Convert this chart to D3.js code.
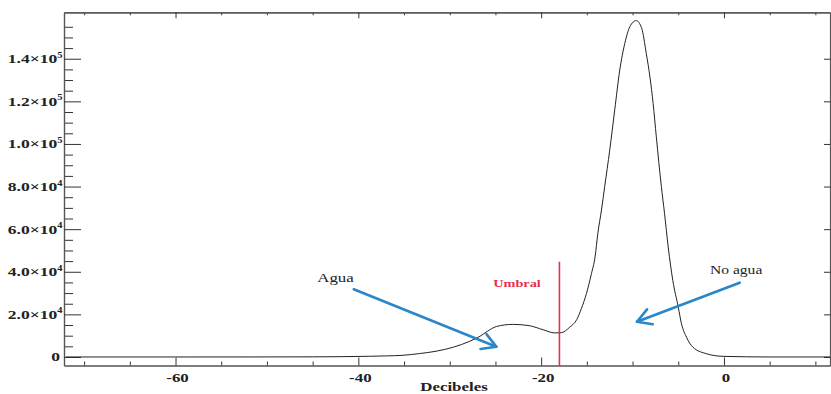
<!DOCTYPE html>
<html>
<head>
<meta charset="utf-8">
<script src="https://cdn.jsdelivr.net/npm/d3@7"></script>
<style>
  body { margin: 0; background: #fff; }
  svg { display: block; }
  text { font-family: "Liberation Serif", "DejaVu Serif", serif; }
</style>
</head>
<body>
<div id="chart"></div>
<script>
// histogram of backscatter (dB)
var decibels = [-72, -60, -50, -45, -42, -38.75, -37, -35.1, -33.3, -31.5, -29.6, -27.8, -26.7, -25.9, -24.9,
    -23.1, -21.3, -19.8, -18.5, -17.8, -16.9, -16.1, -15.6, -15.05, -14.5, -14.1, -13.8, -13.4, -13.05,
    -12.5, -11.95, -11.4, -10.85, -10.3, -9.6, -9.0, -8.5, -8.1, -7.75, -7.4, -6.85, -6.5, -6.1, -5.6,
    -5.0, -4.65, -4.1, -3.4, -1.9, -0.1, 5, 11.6];
var counts = [0, 0, 20, 60, 140, 330, 500, 800, 1600, 2700, 4600, 7400, 9700, 12000, 14300,
    15300, 14700, 12800, 11300, 11400, 13900, 17600, 22700, 29700, 39100, 47000, 58000, 69000, 80000,
    97000, 116000, 134700, 147200, 155000, 157900, 154300, 142500, 131500, 119000, 103300, 80000, 67300, 51600, 36000,
    23400, 15600, 9300, 4600, 1500, 300, 0, 0];

var xMajorTicks = [-60, -40, -20, 0];
var xMinorTicks = [-70, -65, -55, -50, -45, -35, -30, -25, -15, -10, -5, 5, 10];
var yMajorTicks = [0, 20000, 40000, 60000, 80000, 100000, 120000, 140000];
var yTickMantissa = ["0", "2.0×10", "4.0×10", "6.0×10", "8.0×10", "1.0×10", "1.2×10", "1.4×10"];
var yTickExponent = ["", "4", "4", "4", "4", "5", "5", "5"];
var yMinorTicks = [5000, 10000, 15000, 25000, 30000, 35000, 45000, 50000, 55000, 65000, 70000, 75000,
    85000, 90000, 95000, 105000, 110000, 115000, 125000, 130000, 135000, 145000, 150000, 155000];

var umbralDb = -18;
var umbralTop = 44700;

var svgWidth = 831;
var svgHeight = 394;
var stretch = 1.3;   // the figure's lettering is horizontally stretched

var plotLeft = 64, plotRight = 830, plotTop = 12.3, plotBottom = 365.5;

var svg = d3.select("#chart")
    .append("svg")
    .attr("width", svgWidth)
    .attr("height", svgHeight);

var x = d3.scaleLinear().domain([-72.2, 11.6]).range([plotLeft, plotRight]);
var y = d3.scaleLinear().domain([-4000, 161800]).range([plotBottom, plotTop]);

var axisColor = "#555";

function styleAxis(g) {
    g.select(".domain").attr("stroke", axisColor).attr("stroke-width", 1.2);
    g.selectAll(".tick line").attr("stroke", "#333").attr("stroke-width", 1);
    g.selectAll(".tick text").remove();
}

// bottom axis: ticks point up
svg.append("g").attr("transform", `translate(0, ${plotBottom})`)
    .call(d3.axisBottom(x).tickValues(xMinorTicks).tickSize(-4).tickSizeOuter(0)).call(styleAxis);
svg.append("g").attr("transform", `translate(0, ${plotBottom})`)
    .call(d3.axisBottom(x).tickValues(xMajorTicks).tickSize(-8).tickSizeOuter(0)).call(styleAxis);

// top axis: ticks point down
svg.append("g").attr("transform", `translate(0, ${plotTop})`)
    .call(d3.axisTop(x).tickValues(xMinorTicks).tickSize(-3).tickSizeOuter(0)).call(styleAxis);
svg.append("g").attr("transform", `translate(0, ${plotTop})`)
    .call(d3.axisTop(x).tickValues(xMajorTicks).tickSize(-6).tickSizeOuter(0)).call(styleAxis);

// left axis: ticks point right
svg.append("g").attr("transform", `translate(${plotLeft}, 0)`)
    .call(d3.axisLeft(y).tickValues(yMinorTicks).tickSize(-9).tickSizeOuter(0)).call(styleAxis);
svg.append("g").attr("transform", `translate(${plotLeft}, 0)`)
    .call(d3.axisLeft(y).tickValues(yMajorTicks).tickSize(-17).tickSizeOuter(0)).call(styleAxis);

// right axis: only major ticks
svg.append("g").attr("transform", `translate(${plotRight}, 0)`)
    .call(d3.axisRight(y).tickValues(yMajorTicks).tickSize(-6).tickSizeOuter(0)).call(styleAxis);

// x tick labels
svg.append("g")
    .selectAll("text")
    .data(xMajorTicks)
    .enter()
    .append("text")
    .attr("transform", d => `translate(${x(d) + 2}, 382) scale(${stretch}, 1)`)
    .attr("text-anchor", "middle")
    .attr("font-size", "13px")
    .attr("font-weight", "bold")
    .attr("fill", "#222")
    .text(d => d);

// y tick labels with superscript exponent
var yLabels = svg.append("g")
    .selectAll("text")
    .data(yMajorTicks)
    .enter()
    .append("text")
    .attr("transform", (d, i) => `translate(${i === 0 ? 60 : 62.5}, ${y(d) + 4.5}) scale(${stretch}, 1)`)
    .attr("text-anchor", "end")
    .attr("font-size", "13.5px")
    .attr("font-weight", "bold")
    .attr("fill", "#222");

yLabels.append("tspan").text((d, i) => yTickMantissa[i]);
yLabels.append("tspan")
    .attr("font-size", "8px")
    .attr("dy", "-5.5")
    .text((d, i) => yTickExponent[i]);

// x axis title, sitting at the bottom edge
svg.append("text")
    .attr("transform", `translate(454, 391) scale(${stretch}, 1)`)
    .attr("text-anchor", "middle")
    .attr("font-size", "13px")
    .attr("font-weight", "bold")
    .attr("fill", "#222")
    .text("Decibeles");

// histogram curve
var line = d3.line()
    .x((d, i) => x(decibels[i]))
    .y(d => y(d))
    .curve(d3.curveMonotoneX);

svg.append("path")
    .datum(counts)
    .attr("fill", "none")
    .attr("stroke", "#222")
    .attr("stroke-width", 1)
    .attr("d", line);

// threshold line
svg.append("line")
    .attr("x1", x(umbralDb))
    .attr("x2", x(umbralDb))
    .attr("y1", y(umbralTop))
    .attr("y2", plotBottom)
    .attr("stroke", "#e8304a")
    .attr("stroke-width", 1.6);

svg.append("text")
    .attr("transform", `translate(${x(-22.64)}, ${y(32700)}) scale(${stretch}, 1)`)
    .attr("text-anchor", "middle")
    .attr("font-size", "11px")
    .attr("font-weight", "bold")
    .attr("fill", "#e8304a")
    .text("Umbral");

// annotation arrows
var arrows = [
    { label: "Agua", size: 13, lx: -42.5, ly: 35060, from: [-40.5, 31770], to: [-24.9, 4825] },
    { label: "No agua", size: 12, lx: 1.33, ly: 38950, from: [1.72, 34870], to: [-9.52, 16560] }
];
var blue = "#2b86c9";

arrows.forEach(function (a) {
    var x1 = x(a.from[0]), y1 = y(a.from[1]);
    var x2 = x(a.to[0]), y2 = y(a.to[1]);
    var ang = Math.atan2(y2 - y1, x2 - x1);
    var head = 16, spread = Math.PI / 6;
    svg.append("line")
        .attr("x1", x1).attr("y1", y1)
        .attr("x2", x2).attr("y2", y2)
        .attr("stroke", blue)
        .attr("stroke-width", 2.6)
        .attr("stroke-linecap", "round");
    svg.append("path")
        .attr("d", `M${x2 - head * Math.cos(ang - spread)},${y2 - head * Math.sin(ang - spread)}` +
            `L${x2},${y2}` +
            `L${x2 - head * Math.cos(ang + spread)},${y2 - head * Math.sin(ang + spread)}`)
        .attr("fill", "none")
        .attr("stroke", blue)
        .attr("stroke-width", 2.6)
        .attr("stroke-linecap", "round")
        .attr("stroke-linejoin", "round");
    svg.append("text")
        .attr("transform", `translate(${x(a.lx)}, ${y(a.ly)}) scale(${stretch}, 1)`)
        .attr("text-anchor", "middle")
        .attr("font-size", a.size + "px")
        .attr("fill", "#222")
        .text(a.label);
});
</script>
</body>
</html>
